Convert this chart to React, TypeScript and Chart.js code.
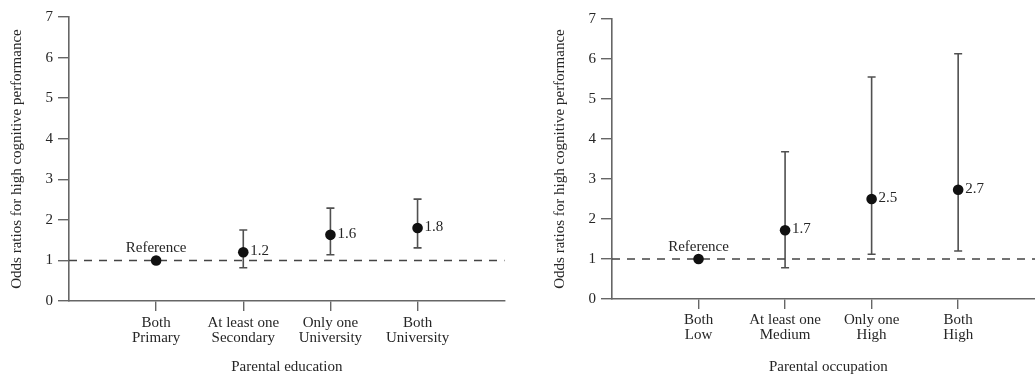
import React, { useEffect, useRef } from "react";
import { Chart, registerables } from "chart.js";

Chart.register(...registerables);

// ---- Data ----
const eduCategories: string[][] = [
  ["Both", "Primary"],
  ["At least one", "Secondary"],
  ["Only one", "University"],
  ["Both", "University"],
];
const eduOdds = [1.0, 1.2, 1.63, 1.8];
const eduLower: (number | null)[] = [null, 0.82, 1.14, 1.31];
const eduUpper: (number | null)[] = [null, 1.75, 2.29, 2.51];
const eduPointLabels = ["Reference", "1.2", "1.6", "1.8"];

const occCategories: string[][] = [
  ["Both", "Low"],
  ["At least one", "Medium"],
  ["Only one", "High"],
  ["Both", "High"],
];
const occOdds = [1.0, 1.72, 2.5, 2.73];
const occLower: (number | null)[] = [null, 0.78, 1.12, 1.2];
const occUpper: (number | null)[] = [null, 3.68, 5.55, 6.13];
const occPointLabels = ["Reference", "1.7", "2.5", "2.7"];

const referenceOdds = 1;
const yAxisTitle = "Odds ratios for high cognitive performance";
const eduXTitle = "Parental education";
const occXTitle = "Parental occupation";

// ---- Styles ----
const FONT = "'Liberation Serif', 'Times New Roman', serif";
const TEXT = "#262626";
const AXIS = "#666";
const BAR = "#505050";
const DOT = "#111";
const FS = 15;

type Panel = {
  categories: string[][];
  odds: number[];
  lower: (number | null)[];
  upper: (number | null)[];
  pointLabels: string[];
  xTitle: string;
  canvasLeft: number;
  canvasWidth: number;
  padTop: number;
  padRight: number;
  yWidth: number;
  xHeight: number;
  yTitlePad: number;
  xTitlePad: number;
  xLabelPad: number;
};

const panels: Panel[] = [
  {
    categories: eduCategories,
    odds: eduOdds,
    lower: eduLower,
    upper: eduUpper,
    pointLabels: eduPointLabels,
    xTitle: eduXTitle,
    canvasLeft: 0,
    canvasWidth: 510,
    padTop: 17,
    padRight: 5,
    yWidth: 69,
    xHeight: 75,
    yTitlePad: 8,
    xTitlePad: 0,
    xLabelPad: 4,
  },
  {
    categories: occCategories,
    odds: occOdds,
    lower: occLower,
    upper: occUpper,
    pointLabels: occPointLabels,
    xTitle: occXTitle,
    canvasLeft: 510,
    canvasWidth: 540,
    padTop: 19,
    padRight: 3,
    yWidth: 102,
    xHeight: 77,
    yTitlePad: 41,
    xTitlePad: 4,
    xLabelPad: 3,
  },
];

function makeChart(canvas: HTMLCanvasElement, p: Panel) {
  const annotate = {
    id: "errorBarsAndLabels",
    beforeDatasetsDraw(chart: any) {
      const ctx = chart.ctx;
      const xs = chart.scales.x;
      const ys = chart.scales.y;
      ctx.save();
      ctx.strokeStyle = BAR;
      ctx.lineWidth = 1.6;
      p.odds.forEach((_, i) => {
        const lo = p.lower[i];
        const hi = p.upper[i];
        if (lo == null || hi == null) return;
        const x = xs.getPixelForValue(i);
        const y1 = ys.getPixelForValue(lo);
        const y2 = ys.getPixelForValue(hi);
        ctx.beginPath();
        ctx.moveTo(x, y1);
        ctx.lineTo(x, y2);
        ctx.moveTo(x - 4, y1);
        ctx.lineTo(x + 4, y1);
        ctx.moveTo(x - 4, y2);
        ctx.lineTo(x + 4, y2);
        ctx.stroke();
      });
      ctx.restore();
    },
    afterDatasetsDraw(chart: any) {
      const ctx = chart.ctx;
      const xs = chart.scales.x;
      const ys = chart.scales.y;
      ctx.save();
      ctx.fillStyle = TEXT;
      ctx.font = `${FS}px ${FONT}`;
      p.odds.forEach((v, i) => {
        const x = xs.getPixelForValue(i);
        const y = ys.getPixelForValue(v);
        if (p.lower[i] == null) {
          ctx.textAlign = "center";
          ctx.textBaseline = "middle";
          ctx.fillText(p.pointLabels[i], x, y - 12);
        } else {
          ctx.textAlign = "left";
          ctx.textBaseline = "middle";
          ctx.fillText(p.pointLabels[i], x + 7, y - 1);
        }
      });
      ctx.restore();
    },
  };

  return new Chart(canvas, {
    type: "scatter",
    data: {
      datasets: [
        {
          type: "line",
          data: [
            { x: -1, y: referenceOdds },
            { x: 4, y: referenceOdds },
          ],
          borderColor: "#444",
          borderWidth: 1.4,
          borderDash: [8, 7],
          pointRadius: 0,
          order: 2,
        } as any,
        {
          data: p.odds.map((v, i) => ({ x: i, y: v })),
          pointRadius: 5.3,
          pointHoverRadius: 5.3,
          backgroundColor: DOT,
          borderColor: DOT,
          borderWidth: 0,
          order: 1,
        },
      ],
    },
    options: {
      animation: false,
      responsive: false,
      devicePixelRatio: 1,
      layout: {
        padding: { left: 0, right: p.padRight, top: p.padTop, bottom: 0 },
      },
      plugins: {
        legend: { display: false },
        tooltip: { enabled: false },
      },
      scales: {
        x: {
          type: "linear",
          min: -1,
          max: 4,
          afterBuildTicks: (s: any) => {
            s.ticks = p.categories.map((_, i) => ({ value: i }));
          },
          afterFit: (s: any) => {
            s.height = p.xHeight;
          },
          ticks: {
            autoSkip: false,
            maxRotation: 0,
            padding: p.xLabelPad,
            color: TEXT,
            font: { family: FONT, size: FS, lineHeight: 1.04 },
            callback: (v: any) => p.categories[Math.round(Number(v))] ?? "",
          },
          grid: {
            display: true,
            drawOnChartArea: false,
            drawTicks: true,
            tickLength: 10,
            color: AXIS,
            lineWidth: 1.4,
          },
          border: { display: true, color: AXIS, width: 1.6 },
          title: {
            display: true,
            text: p.xTitle,
            color: TEXT,
            font: { family: FONT, size: FS, lineHeight: 1.15 },
            padding: { top: p.xTitlePad, bottom: 0 },
          },
        },
        y: {
          type: "linear",
          min: 0,
          max: 7,
          afterFit: (s: any) => {
            s.width = p.yWidth;
          },
          ticks: {
            stepSize: 1,
            padding: 5,
            color: TEXT,
            font: { family: FONT, size: FS },
          },
          grid: {
            display: true,
            drawOnChartArea: false,
            drawTicks: true,
            tickLength: 11,
            color: AXIS,
            lineWidth: 1.4,
          },
          border: { display: true, color: AXIS, width: 1.6 },
          title: {
            display: true,
            text: yAxisTitle,
            color: TEXT,
            font: { family: FONT, size: FS, lineHeight: 1.15 },
            padding: { top: p.yTitlePad, bottom: 0 },
          },
        },
      },
    },
    plugins: [annotate],
  } as any);
}

function PanelChart({ p }: { p: Panel }) {
  const ref = useRef<HTMLCanvasElement | null>(null);
  useEffect(() => {
    if (!ref.current) return;
    const chart = makeChart(ref.current, p);
    return () => chart.destroy();
  }, [p]);
  return (
    <canvas
      ref={ref}
      width={p.canvasWidth}
      height={376}
      style={{
        position: "absolute",
        left: p.canvasLeft,
        top: 0,
        width: p.canvasWidth,
        height: 376,
      }}
    />
  );
}

export default function App() {
  return (
    <div
      style={{
        position: "absolute",
        left: 0,
        top: 0,
        width: 1035,
        height: 376,
        overflow: "hidden",
        background: "#fff",
      }}
    >
      {panels.map((p, i) => (
        <PanelChart key={i} p={p} />
      ))}
    </div>
  );
}
